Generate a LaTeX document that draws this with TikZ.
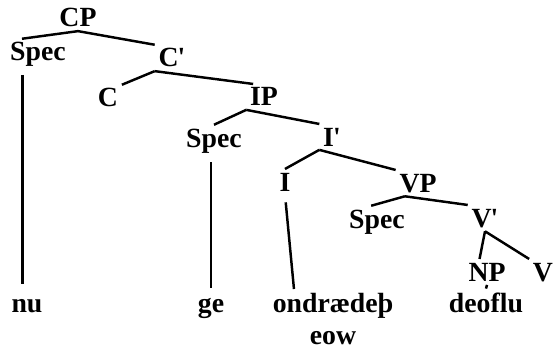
\documentclass[tikz,border=0pt]{standalone}
\usepackage{fontspec}
\setmainfont{Liberation Serif}
\usetikzlibrary{positioning}

\begin{document}
\begin{tikzpicture}[x=0.02cm, y=-0.02cm,
  cat/.style={font=\fontsize{15.8}{18.4}\selectfont\bfseries, inner sep=2pt, anchor=base},
  branch/.style={black, line width=1.4pt}]

\useasboundingbox (0,0) rectangle (554,348);
\clip (0,0) rectangle (554,348);

%categories
{
\node[cat] (cp) at (78,27) {CP};
\node[cat] (specc) at (38,61) {Spec};
\node[cat] (cbar) at (172,67) {C\kern-0.5pt\textquotesingle};
\node[cat] (c) at (108,107) {C};
\node[cat] (ip) at (264,106) {IP};
\node[cat] (speci) at (214,147) {Spec};
\node[cat] (ibar) at (332,146) {I\kern-0.5pt\textquotesingle};
\node[cat] (i) at (285,191) {I};
\node[cat] (vp) at (418,192) {VP};
\node[cat] (specv) at (377,228) {Spec};
\node[cat] (vbar) at (485,227) {V\kern-0.5pt\textquotesingle};
\node[cat] (np) at (487,281) {NP};
\node[cat] (v) at (543,281) {V};
}

%words
{
\node[cat] (nu) at (27,312) {nu};
\node[cat] (ge) at (211,312) {ge};
\node[cat, anchor=north, align=center] (ondraedeth) at (333,289) {ondrædeþ\\eow};
\node[cat] (deoflu) at (486,312) {deoflu};
}

%branches
\foreach \a/\b in {cp.south/specc.135, cp.south/cbar.north west,
  cbar.south west/c.north east, cbar.south west/ip.130,
  ip.south west/speci.north, ip.south west/ibar.north west,
  ibar.south west/i.north, ibar.south west/vp.north west,
  vp.-135/specv.110, vp.-135/vbar.north west,
  vbar.south/np.120, vbar.south/v.north west,
  np.south/deoflu.north}
  \draw[branch] (\a) -- (\b);

%lines down to the words
\draw[branch, shorten <=0.08cm, shorten >=0.22cm] (specc.-134) -- (specc.-134 |- nu.north);
\draw[branch, shorten <=0.11cm, shorten >=0.12cm] (ge.north |- speci.south) -- (ge.north);
\draw[branch, shorten <=0.15cm] (i.south) -- ([xshift=0.5cm]ondraedeth.north west);

\end{tikzpicture}
\end{document}
